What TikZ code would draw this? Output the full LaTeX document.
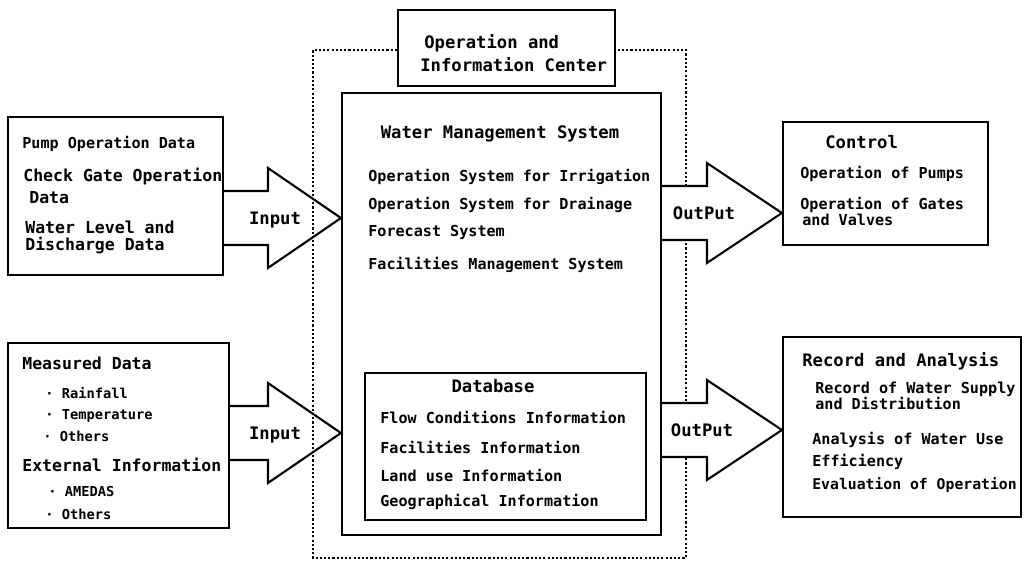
\documentclass[tikz,border=0pt]{standalone}
\usepackage{fontspec}
\newfontfamily\dotfont{DejaVu Sans Mono}
\usetikzlibrary{calc,fit}

\newcommand{\dotsize}[1]{\dotfont\bfseries\fontsize{#1}{#1}\selectfont}

\tikzset{
	box/.style={draw, line width=1.2pt, inner sep=0pt},
	lbl/.style={anchor=west, inner sep=0pt, text height=0.73em, text depth=0pt, font=\dotsize{8.6}},
	lblbig/.style={lbl, font=\dotsize{9.4}},
	lblhead/.style={lbl, font=\dotsize{9.8}},
	lblsmall/.style={lbl, font=\dotsize{7.8}},
	bigarrow/.style={draw, line width=1.2pt, line join=miter},
	centerline/.style={dash pattern=on 1.2pt off 1.2pt, line width=1.2pt}
}

% #1 from, #2 to, #3 y of the tip, #4 head length, #5 fill
\newcommand{\blockarrow}[5]{
	\path (#2.west |- 0,#3) coordinate (tip);
	\draw[bigarrow, fill=#5] (#1.east |- 0,{#3-27}) -- ($(tip)+(-#4,-27)$) -- ($(tip)+(-#4,-50)$)
		-- (tip) -- ($(tip)+(-#4,50)$) -- ($(tip)+(-#4,27)$) -- (#1.east |- 0,{#3+27});
}

\begin{document}
\begin{tikzpicture}[x=0.02cm, y=-0.02cm]
	\useasboundingbox (0,0) rectangle (1024,562);
	
	%boxes
	\node[box, fit={(8,117) (223,275)}] (pump) {};
	\node[box, fit={(8,343) (229,528)}] (meas) {};
	\node[box, fit={(398,10) (615,86)}] (oic) {};
	\node[box, fit={(342,93) (661,535)}] (wms) {};
	\node[box, fit={(365,373) (646,520)}] (db) {};
	\node[box, fit={(783,122) (988,245)}] (ctrl) {};
	\node[box, fit={(783,337) (1021,517)}] (rec) {};
	
	%operation and information center
	\draw[centerline] (oic.west |- 0,50) -- (313,50) -- (313,558) -- (686,558) -- (686,50) -- (oic.east |- 0,50);
	\node[lblhead] (oicA) at (424,42) {Operation and};
	\node[lblhead] (oicB) at (420,65) {Information Center};
	
	%input data
	\node[lbl] (pumpA) at (22,142) {Pump Operation Data};
	\node[lblbig] (pumpB) at (23,175) {Check Gate Operation};
	\node[lblbig] (pumpC) at (29,197) {Data};
	\node[lblbig] (pumpD) at (25,227) {Water Level and};
	\node[lblbig] (pumpE) at (25,244) {Discharge Data};
	
	\node[lblbig] (measA) at (22,363) {Measured Data};
	\node[lblsmall] (measB) at (45,392) {· Rainfall};
	\node[lblsmall] (measC) at (45,413) {· Temperature};
	\node[lblsmall] (measD) at (43,435) {· Others};
	\node[lblbig] (measE) at (22,465) {External Information};
	\node[lblsmall] (measF) at (48,490) {· AMEDAS};
	\node[lblsmall] (measG) at (45,513) {· Others};
	
	%water management system
	\node[lblhead, anchor=center] (wmsA) at (500,132) {Water Management System};
	\node[lbl] (wmsB) at (368,175) {Operation System for Irrigation};
	\node[lbl] (wmsC) at (368,203) {Operation System for Drainage};
	\node[lbl] (wmsD) at (368,230) {Forecast System};
	\node[lbl] (wmsE) at (368,263) {Facilities Management System};
	
	\node[lblhead, anchor=center] (dbA) at (493,386) {Database};
	\node[lbl] (dbB) at (380,417) {Flow Conditions Information};
	\node[lbl] (dbC) at (380,447) {Facilities Information};
	\node[lbl] (dbD) at (380,475) {Land use Information};
	\node[lbl] (dbE) at (380,500) {Geographical Information};
	
	%output
	\node[lblhead] (ctrlA) at (825,142) {Control};
	\node[lbl] (ctrlB) at (800,172) {Operation of Pumps};
	\node[lbl] (ctrlC) at (800,203) {Operation of Gates};
	\node[lbl] (ctrlD) at (802,219) {and Valves};
	
	\node[lblhead] (recA) at (802,360) {Record and Analysis};
	\node[lbl] (recB) at (815,387) {Record of Water Supply};
	\node[lbl] (recC) at (815,403) {and Distribution};
	\node[lbl] (recD) at (812,438) {Analysis of Water Use};
	\node[lbl] (recE) at (812,460) {Efficiency};
	\node[lbl, font=\dotsize{8.4}] (recF) at (812,483) {Evaluation of Operation};
	
	%arrows
	\blockarrow{pump}{wms}{218}{73}{none}
	\blockarrow{meas}{wms}{433}{73}{none}
	\blockarrow{wms}{ctrl}{213}{75}{white}
	\blockarrow{wms}{rec}{430}{75}{white}
	\node[lblhead, anchor=center] (inA) at (275,218) {Input};
	\node[lblhead, anchor=center] (inB) at (275,433) {Input};
	\node[lblhead, anchor=center] (outA) at (704,213) {OutPut};
	\node[lblhead, anchor=center] (outB) at (702,430) {OutPut};
\end{tikzpicture}
\end{document}
